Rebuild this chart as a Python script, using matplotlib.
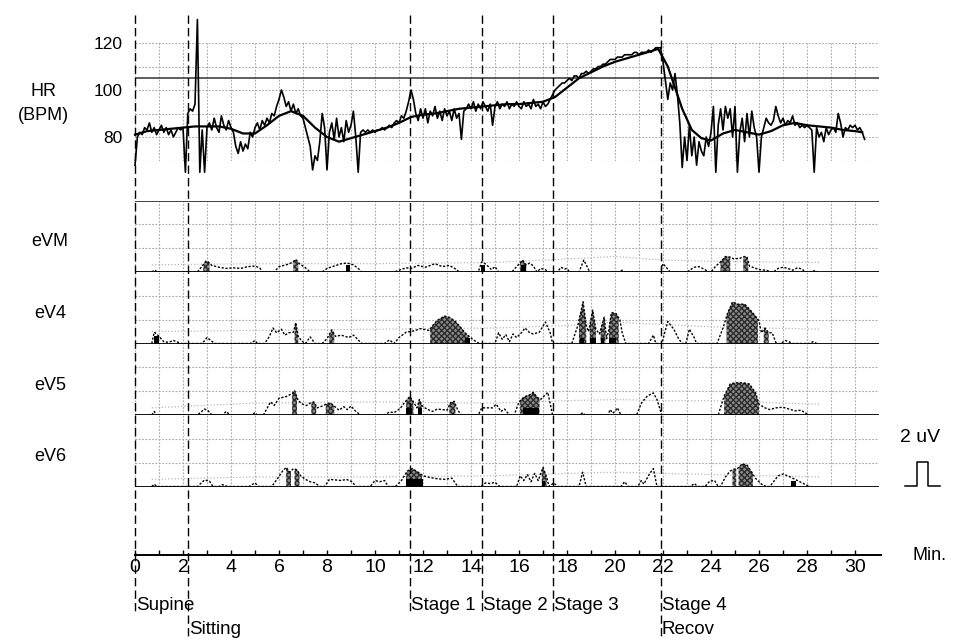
import numpy as np
import matplotlib
matplotlib.use('Agg')
import matplotlib.pyplot as plt

# ---------------- data ----------------
# heart rate (BPM), raw beat-to-beat trace sampled every 0.1 min from t=0
hr_start, hr_step = 0.0, 0.1
hr_raw = [
    68, 80, 82, 81, 84, 83, 86, 82, 84, 81,
    83, 85, 82, 84, 81, 83, 80, 82, 84, 83,
    84, 65, 90, 92, 91, 94, 130, 65, 83, 65,
    84, 86, 83, 88, 84, 82, 89, 85, 83, 87,
    84, 82, 76, 73, 78, 74, 77, 75, 82, 80,
    84, 86, 83, 87, 85, 88, 86, 90, 89, 93,
    96, 100, 97, 93, 95, 91, 94, 90, 92, 89,
    88, 84, 80, 76, 66, 72, 70, 78, 90, 84,
    66, 82, 86, 79, 88, 80, 84, 78, 87, 82,
    85, 91, 80, 65, 82, 83, 82, 83, 82, 83,
    82, 83, 83, 84, 83, 84, 85, 84, 86, 87,
    86, 89, 88, 91, 95, 100, 96, 90, 87, 92,
    88, 92, 86, 91, 89, 93, 88, 91, 87, 92,
    89, 91, 87, 92, 88, 90, 79, 91, 92, 94,
    92, 95, 91, 94, 92, 95, 93, 91, 94, 85,
    93, 95, 92, 94, 93, 95, 92, 94, 93, 95,
    93, 92, 95, 93, 94, 92, 96, 93, 94, 92,
    95, 93, 94, 96, 98, 100, 101, 102, 103, 103,
    104, 105, 104, 106, 106, 105, 107, 107, 108, 107,
    108, 109, 109, 110, 110, 111, 111, 112, 113, 113,
    113, 114, 114, 114, 115, 115, 115, 115, 116, 116,
    115, 116, 116, 116, 117, 116, 117, 118, 118, 118,
    112, 104, 96, 103, 100, 107, 98, 86, 67, 80,
    70, 85, 72, 80, 68, 78, 74, 72, 80, 76,
    82, 93, 65, 85, 92, 83, 93, 88, 92, 80,
    93, 65, 82, 88, 78, 90, 80, 91, 84, 80,
    65, 80, 84, 88, 86, 85, 87, 93, 89, 86,
    88, 85, 87, 86, 89, 85, 86, 84, 85, 84,
    85, 84, 83, 65, 84, 80, 82, 78, 84, 81,
    83, 84, 82, 90, 86, 80, 84, 83, 85, 84,
    85, 83, 84, 82, 79,
]
# smoothed HR trend
hr_sm_t = [0, 0.5, 1, 1.5, 2, 2.5, 3, 3.5, 4, 4.5, 5, 5.5, 6, 6.5, 7, 7.5, 8, 8.5,
           9, 9.5, 10, 10.5, 11, 11.5, 12, 12.5, 13, 13.5, 14, 14.5, 15, 15.5, 16,
           16.5, 17, 17.5, 18, 18.5, 19, 19.5, 20, 20.5, 21, 21.5, 21.8, 22.2, 22.5,
           22.8, 23.2, 23.6, 24, 24.5, 25, 25.5, 26, 26.5, 27, 27.5, 28, 28.5, 29,
           29.5, 30, 30.3]
hr_sm_v = [81, 82.5, 83, 83.5, 84, 84.5, 84.5, 84.5, 83.5, 81.5, 81.5, 85, 89, 91,
           89, 84, 80, 78, 79.5, 81, 82.5, 84, 86, 88.5, 89.5, 90, 91, 92, 92.5, 93,
           93.5, 94, 94, 94.5, 95, 97, 101, 105, 107.5, 110, 112, 113.5, 115, 116.5,
           117.5, 110, 101, 92, 83, 79.5, 78.5, 81.5, 83, 82, 81, 82.5, 85, 86, 85,
           84.5, 84, 83, 82.5, 82]
hr_ref_line = 105
hr_ticks = [80, 100, 120]

# protocol stages (min)
stage_t = [0, 2.2, 11.45, 14.45, 17.4, 21.9]
stage_lab = ["Supine", "Sitting", "Stage 1", "Stage 2", "Stage 3", "Stage 4"]

x_ticks = list(range(0, 31, 2))

channels = ["eVM", "eV4", "eV5", "eV6"]

# EMG traces: (time min, amplitude uV)
eVM_t = [0.7, 0.8, 0.9, 1.0, 2.6, 2.8, 2.95, 3.05, 3.2, 3.5, 3.8, 4.1, 4.4, 4.7, 5.0, 5.2, 5.3,
         5.8, 6.0, 6.3, 6.55, 6.7, 6.85, 7.1, 7.3, 7.8, 8.0, 8.3, 8.6, 8.85, 9.1, 9.3, 9.45,
         10.8, 11.0, 11.3, 11.5, 11.8, 12.1, 12.5, 12.8, 13.1, 13.4, 13.5,
         14.3, 14.45, 14.55, 14.7, 14.85, 15.0, 15.15,
         15.7, 15.9, 16.15, 16.3, 16.45, 16.6, 16.75, 16.9, 17.1, 17.2,
         17.6, 17.75, 17.9, 18.0, 18.1, 18.5, 18.7, 18.85, 18.95,
         20.2, 20.3, 20.4, 21.9, 22.0, 22.15, 22.3,
         23.0, 23.3, 23.5, 23.75, 23.9,
         24.0, 24.2, 24.4, 24.6, 24.8, 24.95, 25.2, 25.4, 25.5, 25.6, 25.8, 26.0, 26.3, 26.5,
         26.6, 26.8, 27.0, 27.2, 27.4, 27.6, 27.8, 27.9, 28.1, 28.3, 28.45]
eVM_v = [0, 0.15, 0.05, 0, 0, 0.5, 0.9, 0.85, 0.55, 0.4, 0.3, 0.35, 0.3, 0.45, 0.5, 0.35, 0,
         0, 0.45, 0.6, 0.8, 1.05, 0.7, 0.35, 0, 0, 0.3, 0.5, 0.7, 0.75, 0.6, 0.3, 0,
         0, 0.15, 0.35, 0.3, 0.55, 0.4, 0.7, 0.45, 0.55, 0.2, 0,
         0, 0.85, 0.75, 0.5, 0.2, 0.45, 0,
         0, 0.45, 1.0, 0.6, 0.75, 0.5, 0, 0.3, 0.2, 0,
         0, 0.4, 0.25, 0.3, 0, 0, 1.0, 0.4, 0,
         0, 0.15, 0, 0, 0.7, 0.35, 0,
         0, 0.4, 0.45, 0.2, 0,
         0, 0.5, 0.85, 1.3, 1.25, 1.1, 1.15, 1.3, 1.25, 0.5, 0.35, 0.2, 0.15, 0,
         0, 0.3, 0.4, 0.3, 0.15, 0.35, 0.25, 0, 0, 0.1, 0]

eV4_t = [0.7, 0.8, 0.9, 1.0, 1.2, 1.4, 1.6, 1.8, 1.9, 2.8, 3.0, 3.2, 3.3, 4.8, 5.0, 5.1,
         5.4, 5.6, 5.75, 5.9, 6.1, 6.25, 6.4, 6.6, 6.7, 6.8, 6.95, 7.1, 7.3, 7.5,
         7.8, 8.0, 8.2, 8.35, 8.6, 8.9, 9.1, 9.3, 9.45,
         10.4, 10.6, 10.8, 11.0, 11.3, 11.6, 11.9, 12.25,
         12.4, 12.6, 12.9, 13.1, 13.35, 13.55, 13.75, 13.95, 14.1, 14.3, 14.4,
         15.0, 15.15, 15.3, 15.45, 15.6, 15.75, 15.9, 16.1, 16.25, 16.45, 16.6, 16.85, 17.1, 17.3, 17.4,
         18.2, 18.45, 18.67, 18.8, 18.9, 19.07, 19.2, 19.35, 19.55, 19.65, 19.75, 19.85, 20.05, 20.2, 20.3, 20.45,
         21.4, 21.6, 21.7, 21.95, 22.2, 22.45, 22.65, 22.8, 22.95, 23.1, 23.3, 23.4,
         24.25, 24.5, 24.7, 24.9, 25.1, 25.4, 25.6, 25.85, 26.0, 26.1, 26.25, 26.4, 26.55, 26.7, 26.8,
         26.9, 27.1, 27.3, 27.4, 28.1, 28.25, 28.4]
eV4_v = [0, 0.95, 0.8, 0.6, 0.15, 0.1, 0.25, 0.1, 0, 0, 0.5, 0.2, 0, 0, 0.25, 0,
         0, 0.6, 1.3, 0.9, 1.2, 0.7, 0.9, 0.95, 1.75, 0.6, 0.2, 0, 0.55, 0,
         0, 0.4, 1.15, 0.6, 0.7, 0.5, 0.7, 0.3, 0,
         0, 0.3, 0, 0.5, 0.95, 1.05, 1.25, 1.1,
         1.5, 1.95, 2.3, 2.2, 1.85, 1.4, 0.9, 0.55, 0.3, 0.05, 0,
         0, 0.9, 0.35, 0.75, 0.15, 0.8, 0.5, 0.9, 1.3, 0.9, 0.8, 0.95, 1.8, 0.9, 0,
         0, 1.5, 3.5, 1.5, 1.0, 2.8, 1.2, 0.8, 2.2, 0.4, 1.2, 2.6, 2.5, 2.0, 0.9, 0,
         0, 0.7, 0, 0, 1.85, 1.2, 0.4, 0, 0, 1.2, 0.5, 0,
         0, 1.3, 2.6, 3.5, 3.3, 3.3, 2.9, 2.3, 1.9, 0.9, 1.3, 0.9, 0.9, 0.1, 0,
         0, 0.25, 0.1, 0, 0, 0.15, 0]

eV5_t = [0.7, 0.8, 0.9, 2.6, 2.9, 3.05, 3.2, 3.65, 3.8, 3.95, 4.85, 5.0, 5.1,
         5.35, 5.65, 5.8, 6.0, 6.3, 6.55, 6.65, 6.8, 7.0, 7.15, 7.3, 7.45, 7.6, 7.8, 8.0,
         8.15, 8.3, 8.5, 8.7, 8.85, 9.0, 9.2, 9.4,
         10.4, 10.6, 10.8, 11.05, 11.25, 11.45, 11.6, 11.75, 11.85, 11.95, 12.15, 12.4, 12.6,
         12.8, 13.0, 13.15, 13.3, 13.45, 13.6,
         14.3, 14.45, 14.7, 14.9, 15.05, 15.25, 15.4, 15.6,
         15.8, 16.0, 16.2, 16.45, 16.6, 16.75, 16.9, 17.2, 17.4,
         18.55, 18.65, 18.75, 19.7, 19.8, 19.9, 20.0, 20.1, 20.25,
         20.9, 21.1, 21.35, 21.6, 21.75, 21.95,
         24.3, 24.55, 24.8, 25.0, 25.35, 25.6, 25.85, 26.0, 26.25, 26.45, 26.7, 27.0,
         27.25, 27.5, 27.75, 28.0, 28.1]
eV5_v = [0, 0.3, 0, 0, 0.5, 0.35, 0, 0, 0.3, 0, 0, 0.2, 0,
         0, 1.1, 0.8, 1.4, 1.55, 1.8, 2.05, 1.2, 0.9, 0.8, 1.0, 1.1, 0.6, 0.75, 0.95,
         1.0, 0.75, 0.4, 0.7, 0.45, 0.75, 0.3, 0,
         0, 0.25, 0.2, 0.55, 1.1, 1.55, 1.1, 0.6, 1.3, 0.8, 0.5, 0.3, 0.5,
         0.45, 0.4, 1.05, 1.15, 0.4, 0,
         0, 0.6, 0.6, 0.6, 0.9, 0.3, 0.5, 0,
         0, 1.1, 1.5, 1.7, 1.9, 1.5, 1.3, 1.9, 0,
         0, 0.2, 0, 0, 0.45, 0.15, 0.3, 0.6, 0,
         0, 1.0, 1.6, 1.85, 1.3, 0,
         0, 1.6, 2.6, 2.7, 2.7, 2.6, 1.9, 0.9, 0.6, 0.45, 0.6, 0.65,
         0.5, 0.35, 0.4, 0.1, 0]

eV6_t = [0.7, 0.8, 0.9, 2.6, 2.9, 3.1, 3.25, 3.5, 3.65, 3.85, 4.75, 5.0, 5.15,
         5.7, 5.95, 6.15, 6.3, 6.45, 6.6, 6.75, 6.9, 7.1, 7.3, 7.5, 7.7,
         7.9, 8.1, 8.35, 8.6, 8.8, 9.05, 9.2, 9.8, 10.0, 10.2, 10.4, 10.55,
         10.85, 11.1, 11.35, 11.55, 11.8, 12.0, 12.3, 12.6, 12.9, 13.2, 13.45,
         14.4, 14.6, 14.8, 15.0, 15.2,
         15.9, 16.05, 16.2, 16.35, 16.5, 16.65, 16.8, 17.0, 17.15, 17.25, 17.45, 17.6,
         18.5, 18.65, 18.8, 20.25, 20.4, 20.55,
         20.95, 21.1, 21.2, 21.45, 21.6, 21.75, 23.15, 23.3, 23.45, 23.75, 23.95, 24.15, 24.3,
         24.4, 24.6, 24.8, 24.95, 25.1, 25.3, 25.5, 25.7, 25.85, 26.1, 26.3,
         26.45, 26.8, 27.0, 27.3, 27.6, 27.9, 28.1]
eV6_v = [0, 0.2, 0, 0, 0.55, 0.45, 0, 0, 0.15, 0, 0, 0.3, 0,
         0, 0.7, 1.3, 1.6, 1.2, 1.5, 1.4, 0.9, 0.6, 0.4, 0.3, 0,
         0, 0.6, 0.55, 0.5, 0.6, 0.4, 0, 0, 0.5, 0.4, 0.5, 0,
         0, 0.5, 1.3, 1.5, 1.2, 0.9, 0.75, 0.65, 0.6, 0.7, 0,
         0, 0.3, 0.25, 0.35, 0,
         0, 0.9, 0.5, 1.0, 0.4, 1.1, 0.5, 1.6, 0.8, 0, 0.3, 0,
         0, 1.2, 0, 0, 0.4, 0,
         0, 0.5, 0.2, 1.1, 1.5, 0, 0, 0.25, 0, 0, 0.45, 0.5, 0,
         0, 0.8, 1.3, 1.45, 1.5, 1.9, 1.8, 1.2, 0.7, 0.2, 0,
         0, 0.9, 1.05, 0.8, 0.5, 0.2, 0]

# faint threshold (dotted grey) level per channel
thr_t = [0.7, 5, 10, 15, 18, 20, 22, 24, 28.5]
eVM_thr = [0.6, 0.7, 0.7, 0.8, 1.1, 1.3, 1.0, 0.9, 0.8]
eV4_thr = [1.0, 1.1, 1.2, 1.3, 1.5, 1.8, 1.6, 1.4, 1.2]
eV5_thr = [0.6, 1.0, 1.1, 1.0, 1.2, 1.3, 1.2, 1.2, 0.9]
eV6_thr = [0.6, 0.8, 0.8, 0.9, 1.1, 1.2, 1.1, 1.0, 0.8]

# cross-hatched (ischemic) intervals, min
eVM_shade = [(2.85, 3.1), (6.6, 6.8), (16.05, 16.3), (24.4, 24.8), (25.35, 25.55)]
eV4_shade = [(6.65, 6.8), (8.1, 8.3), (12.3, 13.9), (18.5, 18.8), (18.95, 19.2),
             (19.4, 19.6), (19.75, 20.15), (24.65, 25.95), (26.2, 26.4)]
eV5_shade = [(6.55, 6.75), (7.35, 7.55), (7.95, 8.3), (11.3, 11.6), (11.8, 11.95),
             (13.1, 13.35), (16.05, 16.85), (24.55, 26.0)]
eV6_shade = [(6.3, 6.5), (6.65, 6.85), (11.3, 11.95), (16.95, 17.15), (24.9, 25.05), (25.15, 25.75)]

# solid black markers (start, end, height uV)
eVM_black = [(8.8, 8.97, 0.6), (14.4, 14.6, 0.55), (16.1, 16.3, 0.6)]
eV4_black = [(0.8, 1.0, 0.6), (13.75, 13.95, 0.5), (18.55, 18.72, 0.5), (18.95, 19.2, 0.5),
             (19.4, 19.55, 0.5), (19.75, 20.05, 0.5)]
eV5_black = [(11.3, 11.55, 0.6), (11.8, 11.95, 0.6), (16.15, 16.85, 0.55)]
eV6_black = [(11.3, 12.0, 0.6), (16.95, 17.1, 0.45), (27.35, 27.55, 0.5)]

# ---------------- layout ----------------
W, H = 960, 643
X0, PXM, TMAX = 135, 24.0, 31
fig = plt.figure(figsize=(9.6, 6.43), dpi=100)
fig.patch.set_facecolor('white')

REG = ['Liberation Sans', 'DejaVu Sans']
NAR = ['Liberation Sans Narrow', 'Liberation Sans', 'DejaVu Sans']
GRID = dict(color='#ababab', lw=0.8, linestyle=(0, (1.6, 1.4)))


def rect(top, bottom):
    return [X0 / W, 1 - bottom / H, TMAX * PXM / W, (bottom - top) / H]


# HR panel
ax = fig.add_axes(rect(43, 160.5))
ax.set_xlim(0, TMAX)
ax.set_ylim(70, 120)
for s in ax.spines.values():
    s.set_visible(False)
ax.set_xticks([])
ax.set_yticks(hr_ticks)
ax.set_yticklabels([str(v) for v in hr_ticks], fontsize=12.5, family=REG)
ax.tick_params(axis='y', length=0, pad=9)
ax.vlines(range(0, TMAX + 1), 70, 120, **GRID)
ax.hlines(range(70, 121, 10), 0, TMAX, **GRID)
ax.axhline(hr_ref_line, color='#333333', lw=1.1)
hr_t = hr_start + hr_step * np.arange(len(hr_raw))
ax.plot(hr_t, hr_raw, color='black', lw=1.2, clip_on=False, zorder=3)
ax.plot(hr_sm_t, hr_sm_v, color='black', lw=1.6, clip_on=False, zorder=4)

# EMG panels
bases = [272, 343.5, 415, 486.5]
traces = [(eVM_t, eVM_v), (eV4_t, eV4_v), (eV5_t, eV5_v), (eV6_t, eV6_v)]
thrs = [eVM_thr, eV4_thr, eV5_thr, eV6_thr]
shades = [eVM_shade, eV4_shade, eV5_shade, eV6_shade]
blacks = [eVM_black, eV4_black, eV5_black, eV6_black]
for i, base in enumerate(bases):
    a = fig.add_axes(rect(base - 71.5, base))
    a.set_xlim(0, TMAX)
    a.set_ylim(0, 6)
    a.axis('off')
    a.vlines(range(0, TMAX + 1), 0, 6, **GRID)
    a.hlines([2, 4], 0, TMAX, **GRID)
    a.axhline(0, color='black', lw=1.3, zorder=5)
    if i == 0:
        a.axhline(6, color='#333333', lw=1.3, zorder=5)
    t = np.array(traces[i][0])
    v = np.array(traces[i][1])
    a.plot(thr_t, thrs[i], color='#b8b8b8', lw=0.9, linestyle=(0, (1, 1.6)), zorder=2)
    for (s0, s1) in shades[i]:
        tt = np.linspace(s0, s1, 40)
        a.fill_between(tt, 0, np.interp(tt, t, v), facecolor='#8c8c8c',
                       hatch='xxxxxx', edgecolor='#2b2b2b', lw=0, zorder=3)
    for (b0, b1, h) in blacks[i]:
        a.bar(b0, h, width=b1 - b0, align='edge', color='black', zorder=4)
    a.plot(t, v, color='black', lw=1.0, linestyle=(0, (1.6, 1.2)), zorder=4)
    fig.text(50 / W, 1 - (base - 30) / H, channels[i], fontsize=13, family=REG,
             ha='center', va='center')

fig.text(44 / W, 1 - 91 / H, "HR", fontsize=13, family=REG, ha='center', va='center')
fig.text(43 / W, 1 - 115 / H, "(BPM)", fontsize=13, family=REG, ha='center', va='center')

# overlay in (minutes, pixel-y) coordinates
ov = fig.add_axes([0, 0, 1, 1])
ov.set_xlim(-X0 / PXM, (W - X0) / PXM)
ov.set_ylim(H, 0)
ov.axis('off')
ov.patch.set_alpha(0)

bottoms = [614, 638, 614, 614, 614, 638]
for st, bt in zip(stage_t, bottoms):
    ov.plot([st, st], [15, bt], color='black', lw=1.0, linestyle=(0, (6, 3)))

# x axis
ax_y = 555
ov.plot([0, 31.1], [ax_y, ax_y], color='black', lw=1.4)
ov.vlines(range(0, 31), ax_y - 5, ax_y, color='black', lw=1.0)
for xt in x_ticks:
    ov.text(xt, 567, str(xt), fontsize=14, family=NAR, ha='center', va='center')
ov.text(33.1, 555, "Min.", fontsize=13, family=REG, ha='center', va='center')

for st, lab in zip(stage_t, stage_lab):
    y = 629 if lab == "Sitting" else 605
    ov.text(st + 0.05, y, lab, fontsize=13.5, family=NAR, ha='left', va='center')
ov.text(stage_t[5] + 0.05, 629, "Recov", fontsize=13.5, family=NAR, ha='left', va='center')

# 2 uV calibration pulse (12 px per uV)
ov.text(32.7, 437, "2 uV", fontsize=14, family=REG, ha='center', va='center')
cal_x = [32.1, 32.6, 32.6, 33.05, 33.05, 33.55]
cal_uV = [0, 0, 2, 2, 0, 0]
ov.plot(cal_x, [486 - 11.9 * u for u in cal_uV], color='black', lw=1.1)

fig.savefig('out.png', dpi=100, facecolor='white')
